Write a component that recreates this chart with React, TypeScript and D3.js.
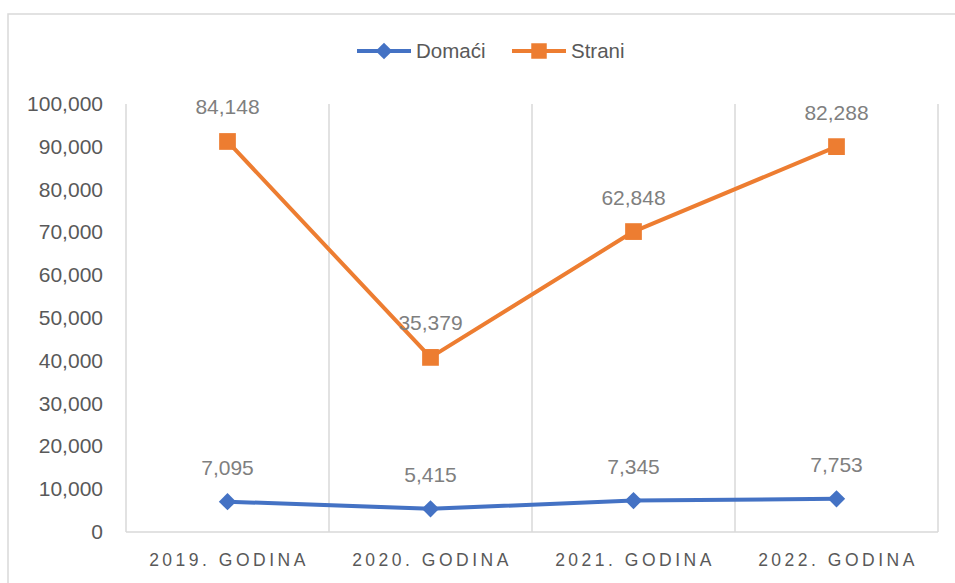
import { scaleBand, scaleLinear, stack, line, format, symbol, symbolSquare } from "d3";

const categories = ["2019. GODINA", "2020. GODINA", "2021. GODINA", "2022. GODINA"];
const domaci = [7095, 5415, 7345, 7753];
const strani = [84148, 35379, 62848, 82288];
const yTicks = [0, 10000, 20000, 30000, 40000, 50000, 60000, 70000, 80000, 90000, 100000];

const W = 955;
const H = 583;
const BLUE = "#4472C4";
const ORANGE = "#ED7D31";
const FONT = "'Liberation Sans', Arial, sans-serif";

export default function App() {
  const rows = categories.map((c, i) => ({ cat: c, Domaći: domaci[i], Strani: strani[i] }));
  // stacked line chart: Strani sits on top of Domaći
  const layers = stack<any>().keys(["Domaći", "Strani"])(rows);

  const x = scaleBand<string>().domain(categories).range([126, 938]);
  const y = scaleLinear().domain([0, 100000]).range([532, 104]);
  const fmt = format(",");
  const cx = (c: string) => (x(c) ?? 0) + x.bandwidth() / 2;

  // diamond = square turned 45 degrees
  const series = [
    { key: "Domaći", color: BLUE, raw: domaci, layer: layers[0], size: 150, rot: 45 },
    { key: "Strani", color: ORANGE, raw: strani, layer: layers[1], size: 280, rot: 0 },
  ];

  const path = line<any>()
    .x((d) => cx(d.data.cat))
    .y((d) => y(d[1]));

  const legend = [
    { key: "Domaći", color: BLUE, size: 140, rot: 45, x0: 357 },
    { key: "Strani", color: ORANGE, size: 240, rot: 0, x0: 512 },
  ];

  return (
    <svg width={W} height={H} style={{ position: "absolute", left: 0, top: 0, fontFamily: FONT }}>
      <rect x={0} y={0} width={W} height={H} fill="#fff" />
      {/* chart frame */}
      <rect x={8} y={14} width={W + 20} height={H + 20} fill="none" stroke="#d9d9d9" strokeWidth={1.5} />

      {/* legend */}
      {legend.map((l) => (
        <g key={l.key}>
          <line x1={l.x0} x2={l.x0 + 54} y1={51} y2={51} stroke={l.color} strokeWidth={4} />
          <path
            d={symbol(symbolSquare, l.size)() ?? ""}
            transform={`translate(${l.x0 + 27},51) rotate(${l.rot})`}
            fill={l.color}
          />
          <text x={l.x0 + 59} y={58} fontSize={20.5} fill="#595959">
            {l.key}
          </text>
        </g>
      ))}

      {/* vertical gridlines at category boundaries */}
      {[...categories.map((c) => x(c) ?? 0), x.range()[1]].map((gx, i) => (
        <line key={i} x1={gx} x2={gx} y1={y(100000)} y2={y(0)} stroke="#d9d9d9" strokeWidth={1.5} />
      ))}
      <line x1={x.range()[0]} x2={x.range()[1]} y1={y(0)} y2={y(0)} stroke="#d9d9d9" strokeWidth={1.5} />

      {/* y axis labels */}
      {yTicks.map((t) => (
        <text key={t} x={103} y={y(t) + 7} textAnchor="end" fontSize={21} fill="#595959">
          {fmt(t)}
        </text>
      ))}

      {/* x axis labels */}
      {categories.map((c) => (
        <text
          key={c}
          x={cx(c) + 1.5}
          y={566}
          textAnchor="middle"
          fontSize={17.5}
          fill="#595959"
          style={{ letterSpacing: "3.5px" }}
        >
          {c}
        </text>
      ))}

      {/* lines, markers, labels */}
      {series.map((s) => (
        <g key={s.key}>
          <path d={path(s.layer as any) ?? ""} fill="none" stroke={s.color} strokeWidth={4} strokeLinejoin="round" />
          {s.layer.map((d: any, i: number) => (
            <path
              key={i}
              d={symbol(symbolSquare, s.size)() ?? ""}
              transform={`translate(${cx(d.data.cat)},${y(d[1])}) rotate(${s.rot})`}
              fill={s.color}
            />
          ))}
          {s.layer.map((d: any, i: number) => (
            <text
              key={"l" + i}
              x={cx(d.data.cat)}
              y={y(d[1]) - 27}
              textAnchor="middle"
              fontSize={21}
              fill="#7f7f7f"
            >
              {fmt(s.raw[i])}
            </text>
          ))}
        </g>
      ))}
    </svg>
  );
}
